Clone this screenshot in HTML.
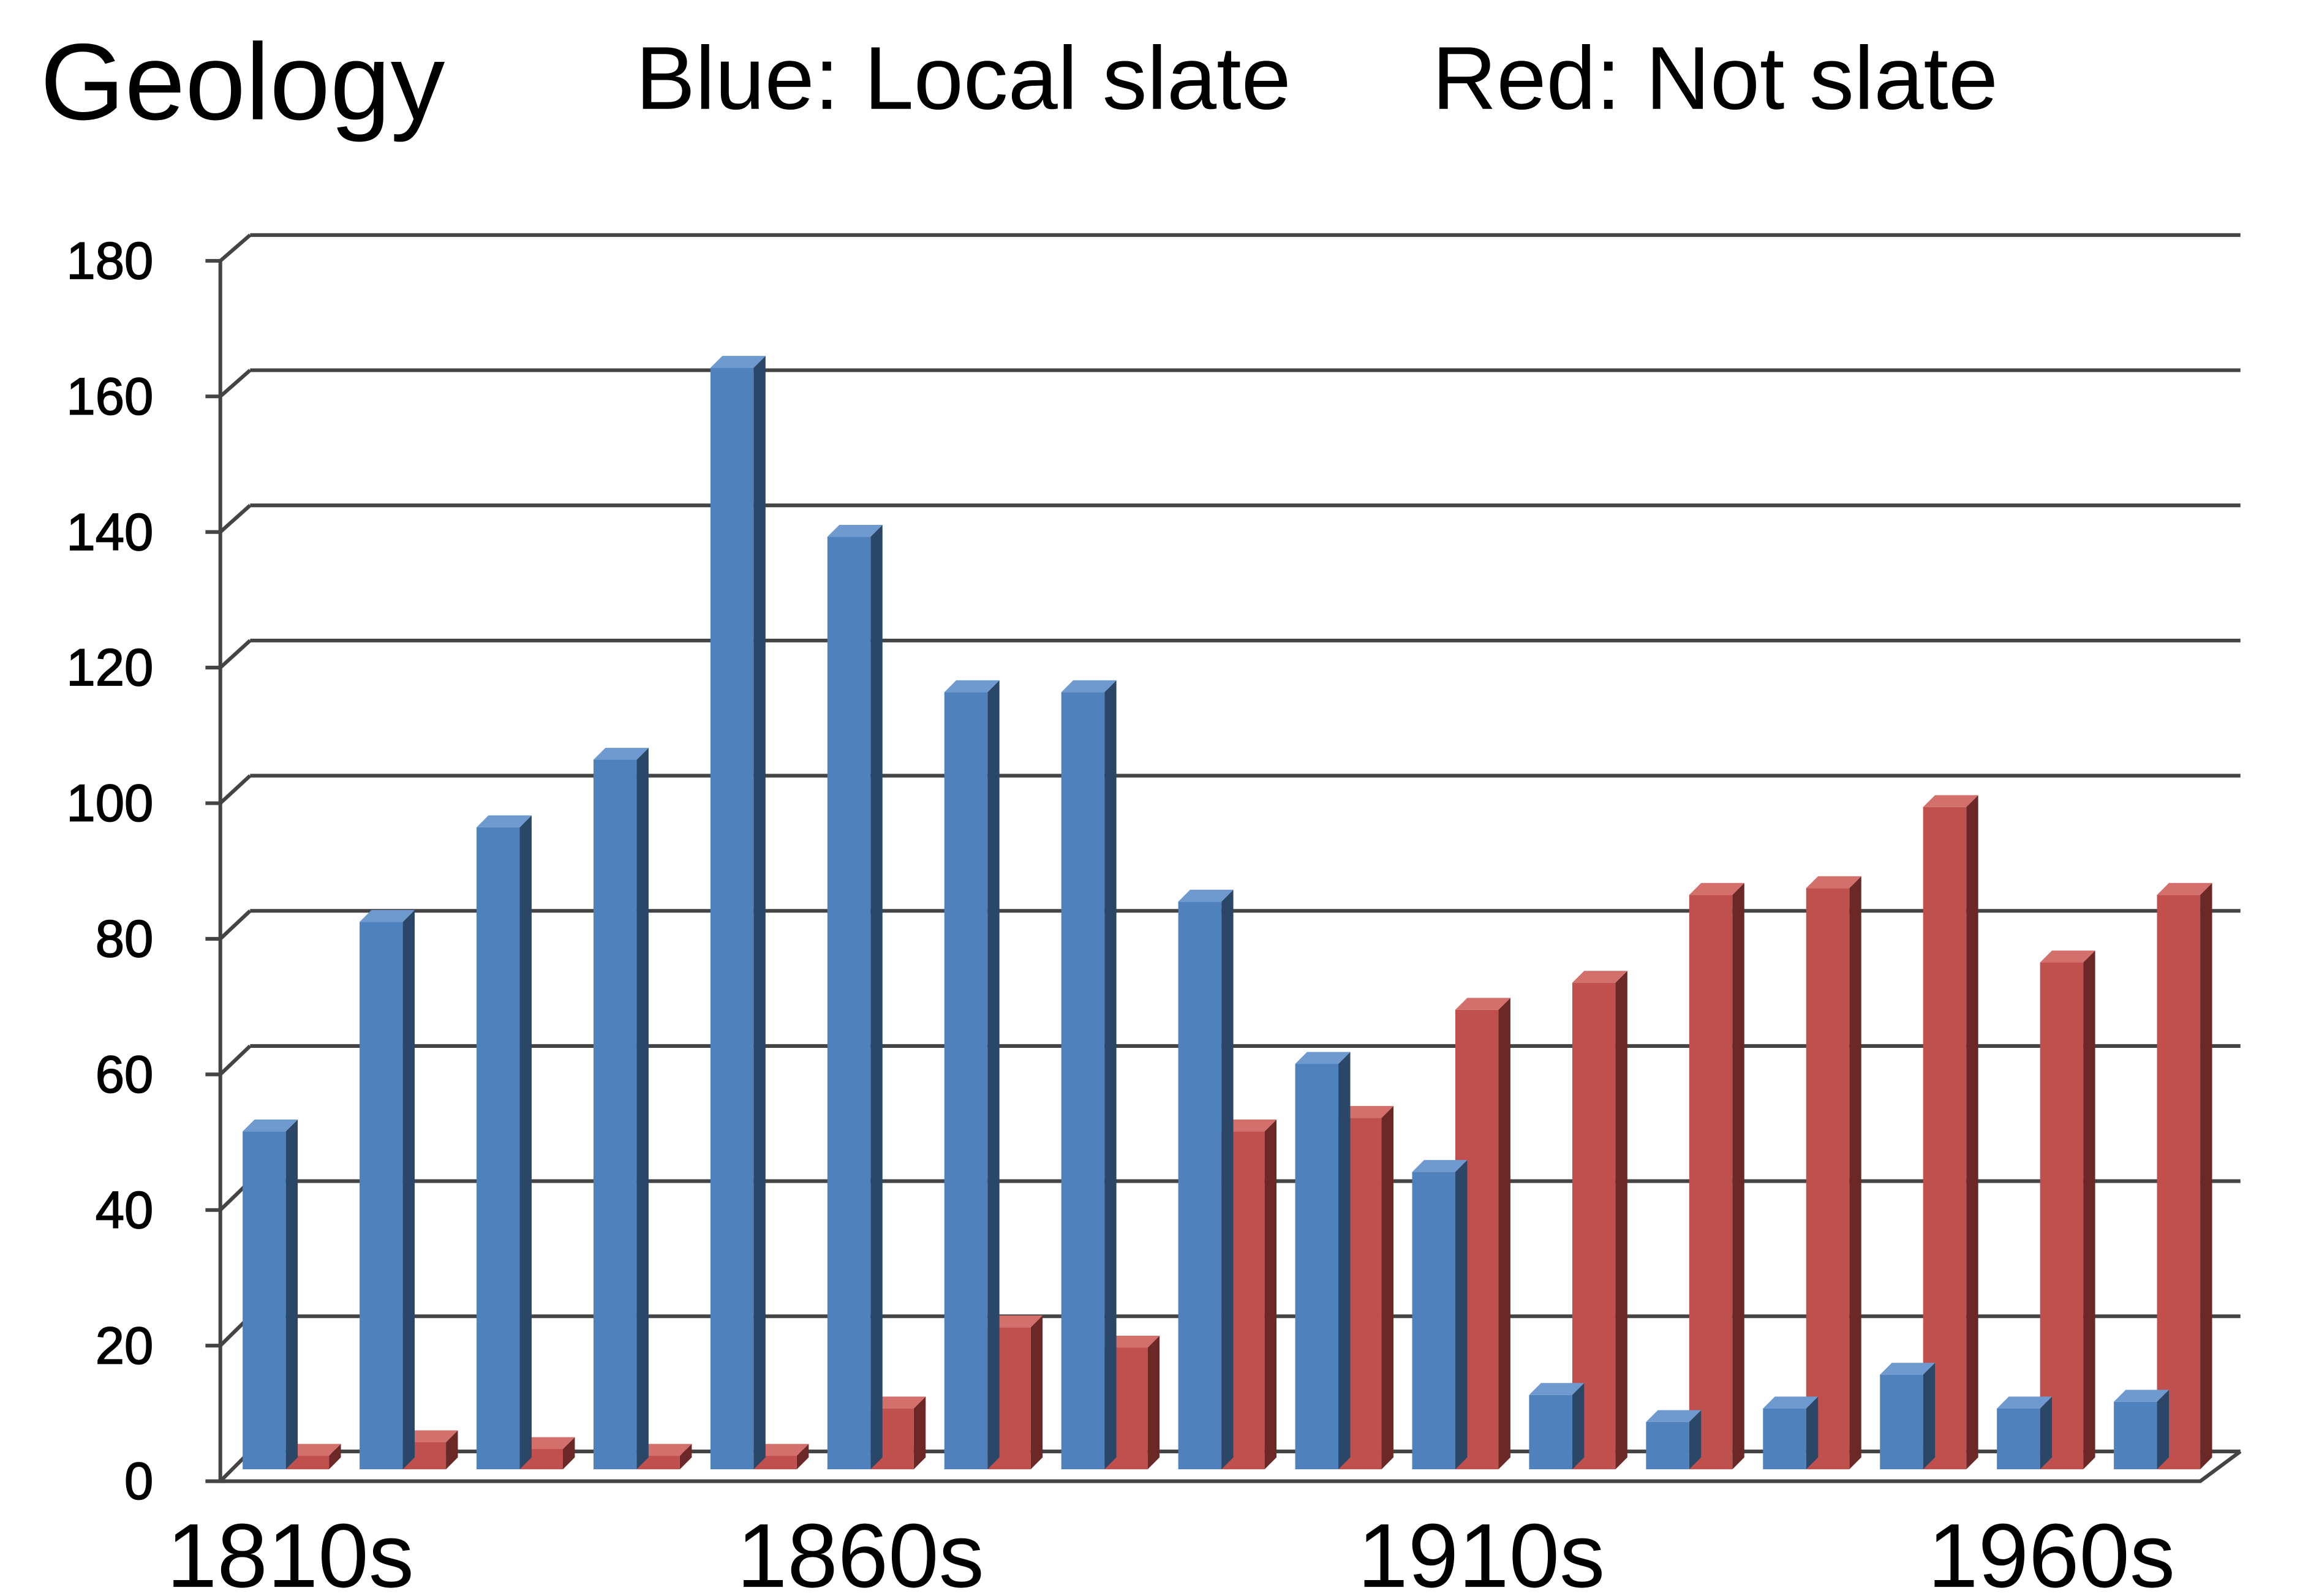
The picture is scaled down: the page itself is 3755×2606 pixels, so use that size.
<!DOCTYPE html>
<html><head><meta charset="utf-8"><style>
html,body{margin:0;padding:0;background:#fff;}
svg{display:block;}
text{font-family:"Liberation Sans",sans-serif;fill:#000;}
</style></head><body>
<svg width="3755" height="2606" viewBox="0 0 1545 1072" xmlns="http://www.w3.org/2000/svg">
<rect width="1545" height="1072" fill="#fff"/>
<text x="27" y="80" font-size="73">Geology</text>
<text x="427" y="73" font-size="60">Blue: Local slate</text>
<text x="962" y="73" font-size="60">Red: Not slate</text>
<g stroke="#444" stroke-width="2.5" fill="none" id="grid"></g>
<g id="bars"></g>
<g font-size="35" text-anchor="end" stroke="#000" stroke-width="0.7" id="ylab"></g>
<g font-size="61" text-anchor="middle">
<text x="195" y="1066">1810s</text>
<text x="578" y="1066">1860s</text>
<text x="995" y="1066">1910s</text>
<text x="1378" y="1066">1960s</text>
</g>
<script>
var NS="http://www.w3.org/2000/svg";
function el(p,t,a){var e=document.createElementNS(NS,t);for(var k in a)e.setAttribute(k,a[k]);document.getElementById(p).appendChild(e);return e;}
for(var i=0;i<=9;i++){
 var yb=975-i*90.8, yf=995-i*91.1;
 el("grid","line",{x1:168,y1:yb,x2:1505,y2:yb});
 el("grid","polyline",{points:"138,"+yf+" 148,"+yf+" 168,"+yb});
 var t=el("ylab","text",{x:103,y:yf+12});t.textContent=String(i*20);
}
el("grid","line",{x1:148,y1:175,x2:148,y2:995});
el("grid","polyline",{points:"148,995 1478,995 1505,975"});
var B=[50,81,95,105,163,138,115,115,84,60,44,11,7,9,14,9,10];
var R=[2,4,3,2,2,9,21,18,50,52,68,72,85,86,98,75,85];
function bar(x,v,c){
 var w=29,d=8,base=987,top=base-4.54*v;
 el("bars","polygon",{points:(x+w)+","+base+" "+(x+w+d)+","+(base-d)+" "+(x+w+d)+","+(top-d)+" "+(x+w)+","+top,fill:c[1]});
 el("bars","polygon",{points:x+","+top+" "+(x+d)+","+(top-d)+" "+(x+w+d)+","+(top-d)+" "+(x+w)+","+top,fill:c[2]});
 el("bars","rect",{x:x,y:top,width:w,height:base-top,fill:c[0]});
}
for(var g=0;g<17;g++){
 var x=163+78.56*g;
 bar(x+29,R[g],["#c0504d","#6b2826","#d4706c"]);
 bar(x,B[g],["#4f81bd","#2a4768","#6f9ad0"]);
}
</script>
</svg>
</body></html>
